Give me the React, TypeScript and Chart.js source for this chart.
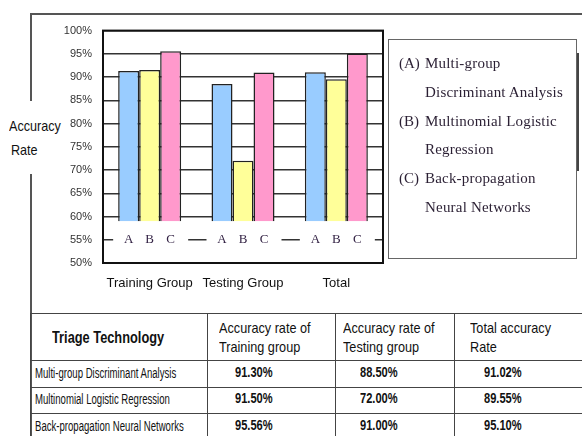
import React, { useEffect, useRef } from "react";
import { Chart, registerables } from "chart.js";

Chart.register(...registerables);

// ---- data ----
const groups = ["Training Group", "Testing Group", "Total"];
const seriesCodes = ["A", "B", "C"];
const methodNames = [
  "Multi-group Discriminant Analysis",
  "Multinomial Logistic Regression",
  "Back-propagation Neural Networks",
];
const legendLines = [
  ["Multi-group", "Discriminant Analysis"],
  ["Multinomial Logistic", "Regression"],
  ["Back-propagation", "Neural Networks"],
];
const seriesA = [91.3, 88.5, 91.02];
const seriesB = [91.5, 72.0, 89.55];
const seriesC = [95.56, 91.0, 95.1];
const tableHeaders = [
  ["Triage Technology"],
  ["Accuracy rate of", "Training group"],
  ["Accuracy rate of", "Testing group"],
  ["Total accuracy", "Rate"],
];
const yTicksMin = 50;
const yTicksMax = 100;
const barBase = 59;

// ---- styles ----
const colors = ["#99CCFF", "#FFFF99", "#FF99CC"];
const sans = '"Liberation Sans", Arial, sans-serif';
const serif = '"Liberation Serif", "Times New Roman", serif';

const labelPlugin = {
  id: "abcLabels",
  afterDatasetsDraw(chart: any) {
    const ctx = chart.ctx;
    const y = chart.scales.y;
    const metas = [0, 1, 2].map((i) => chart.getDatasetMeta(i));
    const top = y.getPixelForValue(barBase) + 1;
    const bottom = y.getPixelForValue(yTicksMin) - 2;
    ctx.save();
    for (let i = 0; i < groups.length; i++) {
      const a = metas[0].data[i];
      const c = metas[2].data[i];
      const left = a.x - a.width / 2 - 5;
      const right = c.x + c.width / 2 + 7;
      ctx.fillStyle = "#fff";
      ctx.fillRect(left, top, right - left, bottom - top);
      ctx.fillStyle = "#332244";
      ctx.font = `13px ${serif}`;
      ctx.textAlign = "center";
      ctx.textBaseline = "middle";
      const ly = y.getPixelForValue(55);
      metas.forEach((m, k) => {
        const el = m.data[i];
        ctx.fillText(seriesCodes[k], el.x, ly);
      });
    }
    ctx.restore();
  },
  afterDraw(chart: any) {
    const { ctx, chartArea } = chart;
    ctx.save();
    ctx.strokeStyle = "#111";
    ctx.lineWidth = 2;
    ctx.strokeRect(chartArea.left, chartArea.top, chartArea.right - chartArea.left, chartArea.bottom - chartArea.top);
    ctx.restore();
  },
};

function BarChart() {
  const ref = useRef<HTMLCanvasElement>(null);
  useEffect(() => {
    if (!ref.current) return;
    const chart = new Chart(ref.current, {
      type: "bar",
      data: {
        labels: groups,
        datasets: [seriesA, seriesB, seriesC].map((d, i) => ({
          label: seriesCodes[i],
          data: d,
          base: barBase,
          backgroundColor: colors[i],
          borderColor: "#222",
          borderWidth: 1.5,
          barPercentage: 1.0,
          categoryPercentage: 0.675,
        })),
      },
      options: {
        animation: false,
        responsive: false,
        layout: { padding: { top: 5, right: 7, left: 0, bottom: 0 } },
        plugins: { legend: { display: false }, tooltip: { enabled: false } },
        scales: {
          x: {
            grid: { display: false },
            border: { display: false },
            ticks: { font: { family: sans, size: 13 }, color: "#111", padding: 5, maxRotation: 0, minRotation: 0, autoSkip: false },
            afterFit: (s: any) => { s.height = 30; },
          },
          y: {
            min: yTicksMin,
            max: yTicksMax,
            border: { display: false },
            grid: { drawTicks: false, color: "#333", lineWidth: 1.5 },
            ticks: {
              stepSize: 5,
              padding: 11,
              color: "#333",
              font: { family: sans, size: 11 },
              callback: (v: any) => v + "%",
            },
            afterFit: (s: any) => { s.width = 63; },
          },
        },
      },
      plugins: [labelPlugin],
    } as any);
    return () => chart.destroy();
  }, []);
  return <canvas ref={ref} width={350} height={280} style={{ width: 350, height: 280, display: "block" }} />;
}

const colEdges = [30, 207, 335, 454, 590];
const rowEdges = [313, 360, 387, 413, 440];
const textLeft = [52, 219, 343, 470];
const numLeft = [35, 235, 360, 484];

function T(props: { left: number; top: number; size: number; sx: number; weight?: number; family?: string; color?: string; children: any }) {
  return (
    <div style={{
      position: "absolute", left: props.left, top: props.top, fontFamily: props.family || sans, fontSize: props.size,
      fontWeight: props.weight || 400, color: props.color || "#111", lineHeight: "18px", whiteSpace: "nowrap",
      transform: `scaleX(${props.sx})`, transformOrigin: "0 0",
    }}>{props.children}</div>
  );
}

export default function App() {
  const line = "#555";
  const values = [seriesA, seriesB, seriesC];
  return (
    <div style={{ position: "absolute", left: 0, top: 0, width: 582, height: 436, overflow: "hidden", background: "#fff" }}>
      {/* outer frame */}
      <div style={{ position: "absolute", left: 30, top: 13, width: 560, borderTop: `2px solid ${line}` }} />
      <div style={{ position: "absolute", left: 30, top: 13, height: 88, borderLeft: `2px solid ${line}` }} />
      <div style={{ position: "absolute", left: 30, top: 174, height: 270, borderLeft: `2px solid ${line}` }} />
      {/* y title */}
      <T left={9} top={117} size={15} sx={0.84}>Accuracy</T>
      <T left={11} top={141} size={15} sx={0.84}>Rate</T>
      {/* chart */}
      <div style={{ position: "absolute", left: 40, top: 13 }}>
        <BarChart />
      </div>
      {/* legend */}
      <div style={{ position: "absolute", left: 388, top: 39, width: 187, height: 218, border: "1.5px solid #666" }} />
      <div style={{ position: "absolute", left: 577, top: 53, height: 118, borderLeft: "2px solid #444" }} />
      {legendLines.map((ls, i) =>
        ls.map((t, j) => (
          <React.Fragment key={`${i}-${j}`}>
            {j === 0 && (
              <div style={{ position: "absolute", left: 399, top: 53 + (i * 2 + j) * 28.8, fontFamily: serif, fontSize: 15, color: "#2a1f33", lineHeight: "20px", whiteSpace: "nowrap" }}>
                ({seriesCodes[i]})
              </div>
            )}
            <div style={{ position: "absolute", left: 425, top: 53 + (i * 2 + j) * 28.8, fontFamily: serif, fontSize: 15, color: "#2a1f33", lineHeight: "20px", whiteSpace: "nowrap", letterSpacing: 0.2 }}>
              {t}
            </div>
          </React.Fragment>
        ))
      )}
      {/* table lines */}
      {rowEdges.map((y, i) => (
        <div key={"r" + i} style={{ position: "absolute", left: 30, top: y, width: 560, borderTop: "1.5px solid #444" }} />
      ))}
      {colEdges.map((x, i) => (
        <div key={"c" + i} style={{ position: "absolute", left: x, top: 313, height: 130, borderLeft: "1.5px solid #444" }} />
      ))}
      {/* header */}
      {tableHeaders.map((h, i) =>
        h.map((t, j) => (
          <T key={`h${i}-${j}`} left={textLeft[i]} top={h.length === 1 ? 329 : 319 + j * 19}
            size={i === 0 ? 16 : 15} sx={i === 0 ? 0.8 : 0.845} weight={i === 0 ? 700 : 400}>{t}</T>
        ))
      )}
      {/* rows */}
      {methodNames.map((m, r) => {
        const cy = (rowEdges[r + 1] + rowEdges[r + 2]) / 2;
        return (
          <React.Fragment key={"m" + r}>
            <T left={numLeft[0]} top={cy - 10} size={14} sx={0.685}>{m}</T>
            {[0, 1, 2].map((c) => (
              <T key={c} left={numLeft[c + 1]} top={cy - 11} size={15} weight={700} sx={0.74}>
                {values[r][c].toFixed(2)}%
              </T>
            ))}
          </React.Fragment>
        );
      })}
    </div>
  );
}
